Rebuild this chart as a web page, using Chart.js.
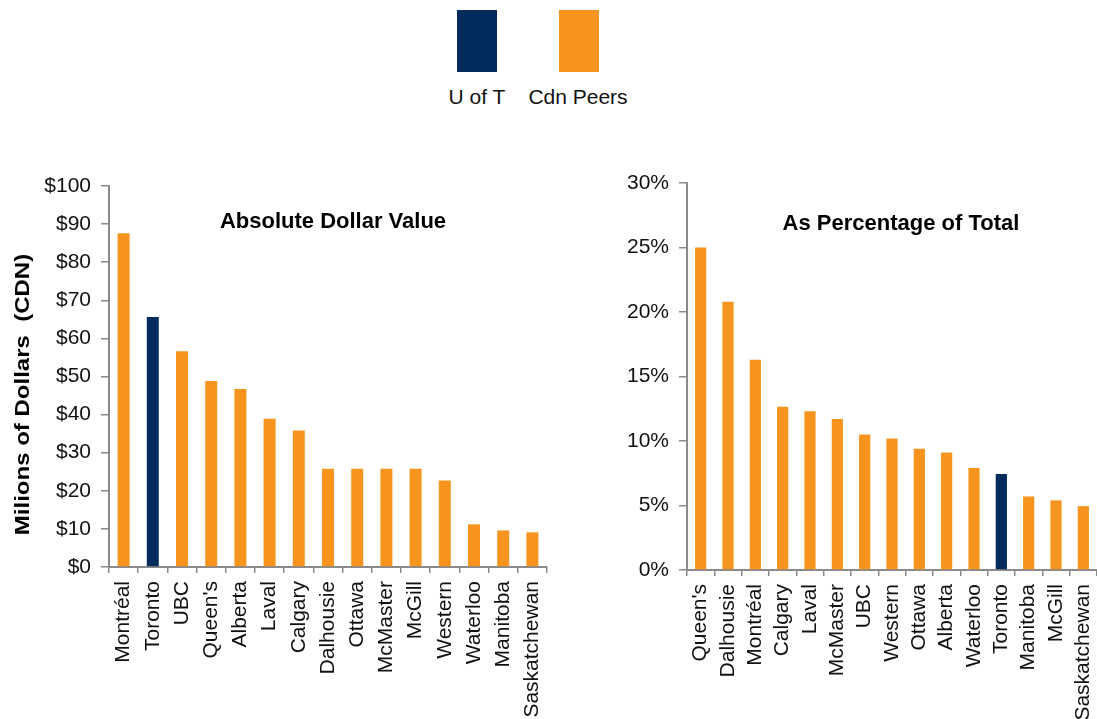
<!DOCTYPE html>
<html>
<head>
<meta charset="utf-8">
<script src="https://cdn.jsdelivr.net/npm/chart.js@4.4.1/dist/chart.umd.min.js"></script>
<style>
  html, body { margin: 0; padding: 0; background: #fff; }
  body { width: 1097px; height: 719px; position: relative; overflow: hidden; font-family: "Liberation Sans", Arial, sans-serif; }
  .box { position: absolute; }
  .legend-swatch { position: absolute; width: 40px; height: 62px; }
  .legend-label { position: absolute; font-size: 21px; color: #111; transform: translateX(-50%); white-space: nowrap; }
</style>
</head>
<body>
<div class="legend-swatch" style="left:457px; top:10px; background:#002B5C;"></div>
<div class="legend-swatch" style="left:559px; top:10px; background:#F7941D;"></div>
<div class="legend-label" style="left:477px; top:85px;">U of T</div>
<div class="legend-label" style="left:578px; top:85px;">Cdn Peers</div>

<div class="box" style="left:0px; top:150px; width:560px; height:569px;"><canvas id="c1"></canvas></div>
<div class="box" style="left:620px; top:150px; width:477px; height:569px;"><canvas id="c2"></canvas></div>

<script>
// ---- Data ----
const absCategories = ["Montréal","Toronto","UBC","Queen's","Alberta","Laval","Calgary","Dalhousie","Ottawa","McMaster","McGill","Western","Waterloo","Manitoba","Saskatchewan"];
const absValues = [87.6, 65.6, 56.6, 48.8, 46.7, 38.9, 35.8, 25.8, 25.8, 25.8, 25.8, 22.7, 11.2, 9.6, 9.1];
const absTicks = [0,10,20,30,40,50,60,70,80,90,100];

const pctCategories = ["Queen's","Dalhousie","Montréal","Calgary","Laval","McMaster","UBC","Western","Ottawa","Alberta","Waterloo","Toronto","Manitoba","McGill","Saskatchewan"];
const pctValues = [25.0, 20.8, 16.3, 12.65, 12.3, 11.7, 10.5, 10.2, 9.4, 9.1, 7.9, 7.45, 5.7, 5.4, 4.95];
const pctTicks = [0,5,10,15,20,25,30];

const highlight = "Toronto";
const NAVY = "#002B5C";
const ORANGE = "#F7941D";
const FONT = "'Liberation Sans', Arial, sans-serif";

const innerTitle = {
  id: 'innerTitle',
  afterDraw(chart, args, opts) {
    const {ctx, chartArea} = chart;
    ctx.save();
    ctx.font = "bold 22px " + FONT;
    ctx.fillStyle = "#000";
    ctx.textAlign = "center";
    ctx.textBaseline = "middle";
    ctx.fillText(opts.text, (chartArea.left + chartArea.right) / 2 + (opts.dx || 0), chartArea.top + opts.dy);
    // vertical axis title (stretched along its reading direction, as in the source)
    if (opts.yText) {
      const cy = (chartArea.top + chartArea.bottom) / 2 + opts.yDy;
      ctx.translate(opts.yX, cy);
      ctx.rotate(-Math.PI / 2);
      ctx.scale(1.2, 1);
      ctx.font = "bold 20px " + FONT;
      ctx.fillText(opts.yText, 0, 0);
    }
    ctx.restore();
  }
};

function makeChart(id, cats, vals, ticks, fmt, cfg) {
  return new Chart(document.getElementById(id), {
    type: 'bar',
    data: {
      labels: cats,
      datasets: [{
        data: vals,
        backgroundColor: cats.map(c => c === highlight ? NAVY : ORANGE),
        borderWidth: 0,
        barPercentage: 0.41,
        categoryPercentage: 1.0
      }]
    },
    plugins: [innerTitle],
    options: {
      responsive: true,
      maintainAspectRatio: false,
      animation: false,
      layout: { padding: cfg.padding },
      plugins: {
        legend: { display: false },
        tooltip: { enabled: false },
        innerTitle: cfg.title
      },
      scales: {
        x: {
          afterFit(s) { s.height = cfg.xHeight; s.paddingLeft = 0; s.paddingRight = 0; },
          grid: { drawOnChartArea: false, drawTicks: true, tickLength: 6, color: '#8a8a8a', lineWidth: 1.5, offset: true },
          border: { color: '#8a8a8a', width: 2 },
          ticks: { autoSkip: false, minRotation: 90, maxRotation: 90, padding: 8, color: '#111', font: { family: FONT, size: 21 } }
        },
        y: {
          min: ticks[0], max: ticks[ticks.length - 1],
          afterFit(s) { s.width = cfg.yWidth; },
          afterBuildTicks(s) { s.ticks = ticks.map(v => ({ value: v })); },
          grid: { drawOnChartArea: false, drawTicks: true, tickLength: 8, color: '#8a8a8a', lineWidth: 1.5 },
          border: { color: '#8a8a8a', width: 2 },
          ticks: { padding: 10, color: '#111', font: { family: FONT, size: 21 }, callback: fmt }
        }
      }
    }
  });
}

makeChart('c1', absCategories, absValues, absTicks, v => '$' + v, {
  padding: { top: 36, right: 13, left: 0, bottom: 0 },
  xHeight: 152,
  yWidth: 109,
  title: { text: 'Absolute Dollar Value', dy: 36, dx: 5, yText: 'Milions of Dollars  (CDN)', yX: 23, yDy: 18 }
});

makeChart('c2', pctCategories, pctValues, pctTicks, v => v + '%', {
  padding: { top: 33, right: 0, left: 0, bottom: 0 },
  xHeight: 149,
  yWidth: 67,
  title: { text: 'As Percentage of Total', dy: 41, dx: 9 }
});
</script>
</body>
</html>
